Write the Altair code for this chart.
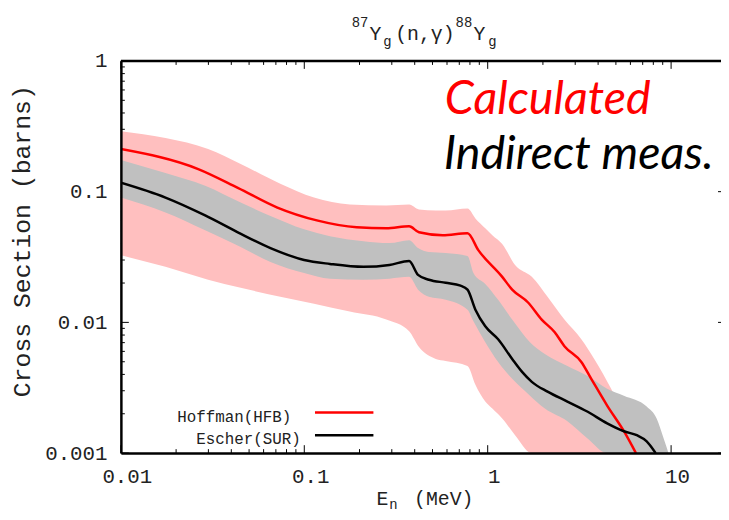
import altair as alt
import pandas as pd

# ---- data (E in MeV, cross section in barns) ----
hof_E = [0.01, 0.0264, 0.0434, 0.0713, 0.117, 0.193, 0.280, 0.373, 0.422, 0.568,
         0.776, 0.889, 1.20, 1.36, 1.66, 1.97, 2.32, 2.62, 3.24, 3.67, 4.48, 5.53, 6.43]
hof_xs = [0.212, 0.149, 0.107, 0.0756, 0.0603, 0.0534, 0.0525, 0.0543, 0.0489, 0.0464,
          0.0481, 0.0357, 0.0223, 0.0178, 0.0142, 0.0105, 0.0084, 0.00658, 0.00498,
          0.0037, 0.00231, 0.00147, 0.001]

esc_E = [0.01, 0.0175, 0.0288, 0.0434, 0.0654, 0.0998, 0.138, 0.210, 0.291, 0.373,
         0.417, 0.478, 0.590, 0.711, 0.776, 0.857, 0.970, 1.14, 1.36, 1.54, 1.74,
         2.12, 2.72, 3.49, 4.48, 5.53, 6.50, 7.36, 8.24]
esc_xs = [0.117, 0.0901, 0.0658, 0.0489, 0.0370, 0.0300, 0.0280, 0.0266, 0.0275, 0.0295,
          0.0231, 0.0212, 0.0201, 0.0191, 0.0178, 0.0125, 0.00933, 0.00743, 0.00525,
          0.00418, 0.00351, 0.00295, 0.00248, 0.00208, 0.00169, 0.00147, 0.00137,
          0.00123, 0.001]

pink_E = [0.01, 0.0175, 0.0299, 0.045, 0.074, 0.113, 0.177, 0.280, 0.373, 0.422, 0.521,
          0.590, 0.776, 0.857, 0.970, 1.06, 1.20, 1.41, 1.74, 2.12, 2.62, 3.24, 3.81,
          4.71, 5.53, 6.67, 7.28]
pink_hi = [0.290, 0.257, 0.212, 0.163, 0.115, 0.0901, 0.0797, 0.0783, 0.0797, 0.0731,
           0.0718, 0.0718, 0.0743, 0.0624, 0.0525, 0.0464, 0.0397, 0.0275, 0.0223,
           0.0157, 0.0105, 0.00743, 0.00525, 0.00311, 0.00201, 0.00130, 0.001]
pink_lo = [0.0327, 0.0266, 0.0212, 0.0184, 0.0157, 0.0139, 0.0121, 0.0105, 0.00855,
           0.00647, 0.00525, 0.00507, 0.00464, 0.00333, 0.00248, 0.00219, 0.00184,
           0.00137, 0.001, 0.001, 0.001, 0.001, 0.001, 0.001, 0.001, 0.001, 0.001]

gray_E = [0.01, 0.0175, 0.0288, 0.045, 0.0654, 0.0998, 0.138, 0.210, 0.291, 0.373,
          0.417, 0.478, 0.590, 0.776, 0.836, 0.970, 1.14, 1.36, 1.70, 2.05, 2.72,
          3.49, 4.48, 5.53, 7.36, 8.34, 9.10, 9.68]
gray_hi = [0.175, 0.139, 0.111, 0.0826, 0.0652, 0.0515, 0.0456, 0.0418, 0.0404, 0.0425,
           0.0370, 0.0345, 0.0339, 0.0322, 0.0239, 0.0197, 0.0149, 0.0105, 0.00705,
           0.00573, 0.00464, 0.00390, 0.00311, 0.00275, 0.00227, 0.00184, 0.00130, 0.001]
gray_lo = [0.0901, 0.0693, 0.0507, 0.0377, 0.0290, 0.0239, 0.0216, 0.0212, 0.0216,
           0.0223, 0.0178, 0.0157, 0.0149, 0.0125, 0.0102, 0.00705, 0.00498, 0.00370,
           0.00275, 0.00219, 0.00175, 0.00130, 0.001, 0.001, 0.001, 0.001, 0.001, 0.001]

x_major = [0.01, 0.1, 1, 10]
x_minor = [0.02, 0.03, 0.04, 0.05, 0.06, 0.07, 0.08, 0.09,
           0.2, 0.3, 0.4, 0.5, 0.6, 0.7, 0.8, 0.9,
           2, 3, 4, 5, 6, 7, 8, 9]
y_major = [0.001, 0.01, 0.1, 1]
y_minor = [0.002, 0.003, 0.004, 0.005, 0.006, 0.007, 0.008, 0.009,
           0.02, 0.03, 0.04, 0.05, 0.06, 0.07, 0.08, 0.09,
           0.2, 0.3, 0.4, 0.5, 0.6, 0.7, 0.8, 0.9]

W, H = 606, 396
MONO = "Liberation Mono"

xs = alt.Scale(type="log", domain=[0.01, 18.71], nice=False)
ys = alt.Scale(type="log", domain=[0.001, 1], nice=False)
x_axis = alt.Axis(values=x_major, format="~g", ticks=False, grid=False, domainColor="black",
                  domainWidth=2.5, labelFont=MONO, labelFontSize=21, labelColor="#222",
                  labelPadding=13, labelOffset=6, labelFlush=False, labelOverlap=False,
                  title=None, zindex=2)
y_axis = alt.Axis(values=y_major, format="~g", ticks=False, grid=False, domainColor="black",
                  domainWidth=2.5, labelFont=MONO, labelFontSize=21, labelColor="#222",
                  labelPadding=14, labelFlush=False, labelOverlap=False, title=None, zindex=2)

X = lambda f: alt.X(f, type="quantitative", scale=xs, axis=x_axis)
Y = lambda f: alt.Y(f, type="quantitative", scale=ys, axis=y_axis)

df_hof = pd.DataFrame({"E": hof_E, "xs": hof_xs})
df_esc = pd.DataFrame({"E": esc_E, "xs": esc_xs})
df_pink = pd.DataFrame({"E": pink_E, "lo": pink_lo, "hi": pink_hi})
df_gray = pd.DataFrame({"E": gray_E, "lo": gray_lo, "hi": gray_hi})
df_xmaj = pd.DataFrame({"v": x_major})
df_xmin = pd.DataFrame({"v": x_minor})
df_ymaj = pd.DataFrame({"v": y_major})
df_ymin = pd.DataFrame({"v": y_minor})

def xticks(df, n):
    bot = alt.Chart(df).mark_rule(color="black", strokeWidth=1).encode(
        x=X("v"), y=alt.value(H), y2=alt.value(H - n))
    top = alt.Chart(df).mark_rule(color="black", strokeWidth=1).encode(
        x=X("v"), y=alt.value(0), y2=alt.value(n))
    return [bot, top]

def yticks(df, n):
    left = alt.Chart(df).mark_rule(color="black", strokeWidth=1).encode(
        y=Y("v"), x=alt.value(0), x2=alt.value(n))
    return [left]

right_ticks = alt.Chart(df_ymaj).mark_rule(color="black", strokeWidth=1).encode(
    y=Y("v"), x=alt.value(W - 3), x2=alt.value(W))

pink = alt.Chart(df_pink).mark_area(color="#ffbfbf", opacity=1, clip=True,
                                    interpolate="monotone").encode(
    x=X("E"), y=Y("hi"), y2="lo")
gray = alt.Chart(df_gray).mark_area(color="#c0c0c0", opacity=1, clip=True,
                                    interpolate="monotone").encode(
    x=X("E"), y=Y("hi"), y2="lo")
red = alt.Chart(df_hof).mark_line(color="#ff0000", strokeWidth=2.5, clip=True,
                                  interpolate="monotone").encode(
    x=X("E"), y=Y("xs"))
black = alt.Chart(df_esc).mark_line(color="#000000", strokeWidth=2.5, clip=True,
                                    interpolate="monotone").encode(
    x=X("E"), y=Y("xs"))

one = pd.DataFrame({"a": [0]})
top_border = alt.Chart(one).mark_rule(color="black", strokeWidth=2.5).encode(
    x=alt.value(0), x2=alt.value(W), y=alt.value(0))

def txt(s, x, y, size, font=MONO, color="#222", align="left", baseline="alphabetic",
        angle=0, style="normal"):
    kw = dict(font=font, fontSize=size, color=color, align=align, baseline=baseline,
              fontStyle=style)
    if angle:
        kw["angle"] = angle
    return alt.Chart(one).mark_text(**kw).encode(
        x=alt.value(x), y=alt.value(y), text=alt.value(s))

texts = [
    # title  87Yg(n,γ)88Yg
    txt("87", 233, -34, 14), txt("Y", 251, -21, 20), txt("g", 265, -15, 14),
    txt("(n,γ)", 277, -21, 20),
    txt("88", 338, -34, 14), txt("Y", 356, -21, 20), txt("g", 371, -15, 14),
    # x title
    txt("E", 258, 448, 20), txt("n", 271, 452, 14), txt("(MeV)", 296, 448, 20),
    # y title
    txt("Cross Section (barns)", -100, 182, 25, align="center", baseline="middle", angle=270),
    # legend
    txt("Hoffman(HFB)", 57, 365, 16), txt("Escher(SUR)", 76, 387, 16),
    # overlay labels
    txt("Calculated", 327, 54, 47, font="Lato", color="#ff0000", style="italic"),
    txt("Indirect meas.", 326, 109, 47, font="Lato", color="#000000", style="italic"),
]

leg_red = alt.Chart(one).mark_rule(color="#ff0000", strokeWidth=2.5).encode(
    x=alt.value(196), x2=alt.value(255), y=alt.value(355))
leg_black = alt.Chart(one).mark_rule(color="#000000", strokeWidth=2.5).encode(
    x=alt.value(196), x2=alt.value(255), y=alt.value(378))

layers = (xticks(df_xmaj, 8) + xticks(df_xmin, 4) + yticks(df_ymaj, 8) + yticks(df_ymin, 4)
          + [right_ticks, pink, gray, red, black, top_border, leg_red, leg_black] + texts)

chart = alt.layer(*layers).properties(
    width=W, height=H,
    autosize=alt.AutoSizeParams(type="none"),
    padding={"left": 114, "top": 51, "right": 0, "bottom": 57},
).configure_view(stroke=None)

chart.save("out.html", embed_options={"renderer": "svg", "actions": False})
